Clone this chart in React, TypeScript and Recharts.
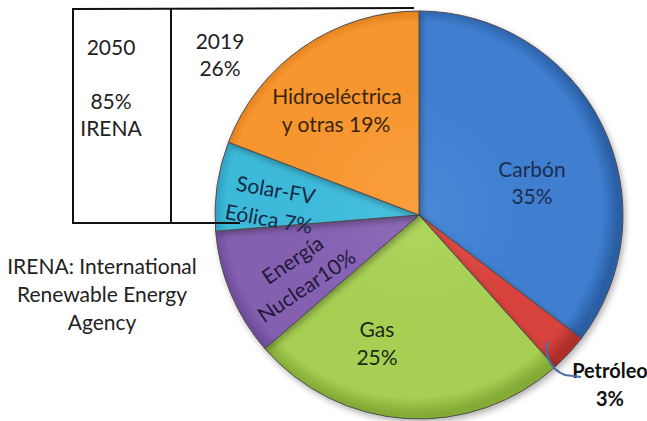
import React from "react";
import { PieChart, Pie, Cell } from "recharts";

const sliceNames = ["Carbón", "Petróleo", "Gas", "Energía Nuclear", "Solar-FV Eólica", "Hidroeléctrica y otras"];
const sliceValues = [35, 3, 25, 10, 7, 19];
const sliceLabelLines = [
  ["Carbón", "35%"],
  ["Petróleo", "3%"],
  ["Gas", "25%"],
  ["Energía", "Nuclear10%"],
  ["Solar-FV", "Eólica 7%"],
  ["Hidroeléctrica", "y otras 19%"],
];
const boxLeftLines = ["2050", "", "85%", "IRENA"];
const boxRightLines = ["2019", "26%"];
const noteLines = ["IRENA: International", "Renewable Energy", "Agency"];

const baseColors = ["#3f7fd0", "#d8433d", "#a6cf52", "#8561b1", "#3db9d9", "#f7962f"];
const lightColors = ["#4888d6", "#de4d46", "#afd55e", "#8d6ab8", "#48bfdd", "#f99e3c"];
const edgeColors = ["#2b5fa6", "#ad2f2a", "#84ab36", "#684793", "#2895b4", "#d57514"];

const data = sliceNames.map((name, i) => ({ name, value: sliceValues[i] }));

// label placement relative to pie centre: [dx, dy] per line, rotation, style
const labelPlacement: Record<string, { pts: number[][]; rot: number; bold?: boolean; color: string }> = {
  "Carbón": { pts: [[113, -47], [113, -20]], rot: 0, color: "#1c2d4e" },
  "Petróleo": { pts: [[191, 155], [191, 183]], rot: 0, bold: true, color: "#111" },
  "Gas": { pts: [[-42, 113], [-42, 141]], rot: 0, color: "#20291a" },
  "Energía Nuclear": { pts: [[-127, 44], [-113, 70]], rot: -34, color: "#1f1a3a" },
  "Solar-FV Eólica": { pts: [[-143, -26], [-150, 3]], rot: 10, color: "#142a44" },
  "Hidroeléctrica y otras": { pts: [[-82, -120], [-83, -92]], rot: 0, color: "#3a2410" },
};

const CX = 414;
const CY = 210;
const R = 204;
const FONT = "Lato, 'Open Sans', sans-serif";

const renderLabel = (props: any) => {
  const { cx, cy, index, name } = props;
  const p = labelPlacement[name];
  const lines = sliceLabelLines[index];
  return (
    <g>
      {lines.map((t, k) => {
        const x = cx + p.pts[k][0];
        const y = cy + p.pts[k][1];
        return (
          <text
            key={k}
            x={x}
            y={y}
            textAnchor="middle"
            dominantBaseline="central"
            transform={p.rot ? `rotate(${p.rot} ${x} ${y})` : undefined}
            style={{ fontFamily: FONT, fontSize: p.bold ? 20 : 21, fontWeight: p.bold ? 700 : 400, fill: p.color }}
          >
            {t}
          </text>
        );
      })}
      {name === "Petróleo" && (
        <path
          d={`M ${cx + 129} ${cy + 126} C ${cx + 125} ${cy + 138}, ${cx + 130} ${cy + 154}, ${cx + 146} ${cy + 160} L ${cx + 162} ${cy + 162}`}
          fill="none"
          stroke="#4a6fa8"
          strokeWidth={2}
        />
      )}
    </g>
  );
};

const textStyle: React.CSSProperties = {
  position: "absolute",
  fontFamily: FONT,
  fontSize: 21,
  color: "#222",
  lineHeight: "27px",
  textAlign: "center",
};

export default function App() {
  return (
    <div style={{ position: "absolute", left: 0, top: 0, width: 647, height: 421, background: "#fff", overflow: "hidden" }}>
      <PieChart width={647} height={421} style={{ position: "absolute", left: 0, top: 0 }}>
        <defs>
          {baseColors.map((c, i) => (
            <radialGradient key={i} id={`g${i}`} gradientUnits="userSpaceOnUse" cx={CX} cy={CY} r={R}>
              <stop offset="0%" stopColor={lightColors[i]} />
              <stop offset="60%" stopColor={baseColors[i]} />
              <stop offset="92%" stopColor={baseColors[i]} />
              <stop offset="100%" stopColor={edgeColors[i]} />
            </radialGradient>
          ))}
          <filter id="shadow" x="-10%" y="-10%" width="120%" height="120%">
            <feDropShadow dx="2" dy="3" stdDeviation="3" floodColor="#000" floodOpacity="0.3" />
          </filter>
        </defs>
        <Pie
          data={data}
          dataKey="value"
          nameKey="name"
          cx={CX}
          cy={CY}
          outerRadius={R}
          startAngle={90}
          endAngle={-270}
          isAnimationActive={false}
          label={renderLabel}
          labelLine={false}
          stroke="#4d4d4d"
          strokeWidth={1}
          style={{ filter: "url(#shadow)" }}
        >
          {data.map((d, i) => (
            <Cell key={d.name} fill={`url(#g${i})`} />
          ))}
        </Pie>
      </PieChart>
      <svg width={647} height={421} style={{ position: "absolute", left: 0, top: 0, pointerEvents: "none" }}>
        <line x1={73} y1={9} x2={414} y2={8} stroke="#111" strokeWidth={2} />
        <line x1={73} y1={8} x2={73} y2={224} stroke="#111" strokeWidth={2} />
        <line x1={171} y1={9} x2={171} y2={224} stroke="#111" strokeWidth={2} />
        <line x1={72} y1={223} x2={240} y2={223} stroke="#111" strokeWidth={2} />
      </svg>
      <div style={{ ...textStyle, left: 62, top: 33, width: 98 }}>
        {boxLeftLines.map((t, i) => (
          <div key={i} style={{ height: 27 }}>{t}</div>
        ))}
      </div>
      <div style={{ ...textStyle, left: 180, top: 27, width: 80 }}>
        {boxRightLines.map((t, i) => (
          <div key={i}>{t}</div>
        ))}
      </div>
      <div style={{ ...textStyle, left: 0, top: 252, width: 204, lineHeight: "28px" }}>
        {noteLines.map((t, i) => (
          <div key={i}>{t}</div>
        ))}
      </div>
    </div>
  );
}
